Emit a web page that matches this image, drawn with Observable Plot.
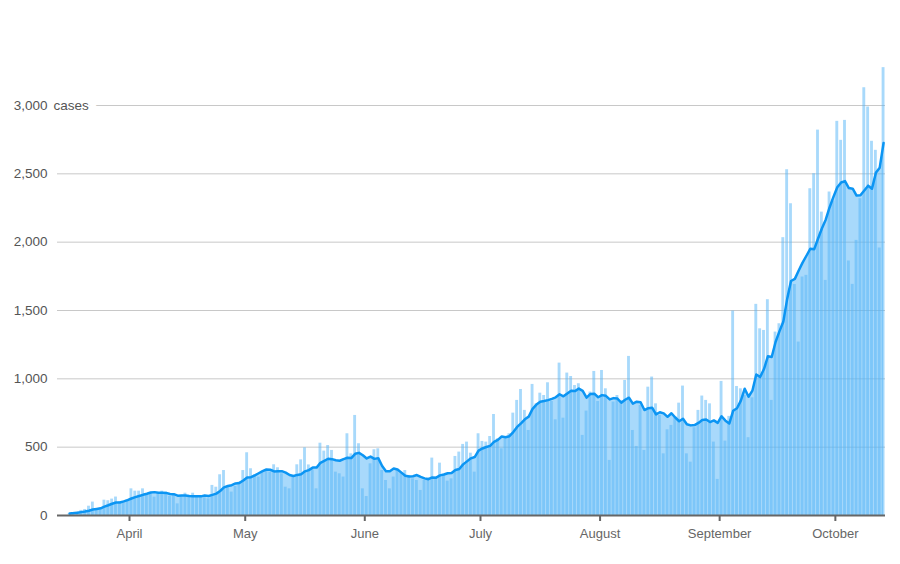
<!DOCTYPE html>
<html>
<head>
<meta charset="utf-8">
<script src="https://cdn.jsdelivr.net/npm/d3@7"></script>
<script src="https://cdn.jsdelivr.net/npm/@observablehq/plot@0.6"></script>
<style>
  html, body { margin: 0; padding: 0; background: #fff; }
  #chart svg { font-family: "Liberation Sans", Arial, sans-serif; }
  #chart svg [aria-label^="x-axis"] line,
  #chart svg [aria-label="x-axis tick"] path { stroke-width: 2; }
</style>
</head>
<body>
<div id="chart"></div>
<script>
// ---- data ----
const startDate = "2020-03-16";
const cases = [
  15, 20, 27, 37, 44, 68, 98, 44, 50, 112, 108, 120, 135, 100, 98, 115,
  195, 178, 178, 195, 154, 163, 134, 163, 178, 171, 139, 146, 85, 146, 163, 146,
  163, 139, 139, 129, 122, 220, 207, 298, 329, 207, 171, 212, 244, 329,
  459, 342, 298, 281, 317, 329, 317, 371, 349, 305, 207, 195, 281, 371, 407, 495,
  370, 334, 195, 529, 471, 512, 476, 317, 305, 281, 598, 451, 732, 525,
  195, 139, 378, 481, 488, 329, 256, 195, 281, 329, 317, 329, 293, 268, 256, 183,
  256, 275, 420, 281, 383, 300, 251, 268, 432, 464, 520, 537, 456, 317,
  598, 542, 537, 578, 739, 561, 488, 561, 598, 749, 842, 922, 769, 622, 959, 817,
  895, 878, 971, 834, 700, 1115, 712, 1042, 1017, 951, 964, 586, 764, 903, 1054, 834,
  1061, 927, 403, 830, 878, 842, 988, 1164, 622, 505, 805, 476, 939, 1013, 817, 732,
  451, 627, 659, 720, 822, 947, 451, 390, 642, 769, 874, 842, 817, 537,
  264, 981, 544, 725, 1496, 944, 927, 878, 569, 861, 1545, 1366, 1354, 1579, 842, 1342,
  1403, 2033, 2530, 2281, 1690, 1269, 1745, 1757, 2391, 2501, 2820, 2220, 1720, 2367, 2300,
  2884, 2745, 2891, 1862, 1691, 2013, 2318, 3130, 2989, 2738, 2672, 1957, 3277
];
const yTicks = [0, 500, 1000, 1500, 2000, 2500, 3000];
const yUnit = "cases";
const monthTicks = ["2020-04-01", "2020-05-01", "2020-06-01", "2020-07-01", "2020-08-01", "2020-09-01", "2020-10-01"];
const monthLabels = ["April", "May", "June", "July", "August", "September", "October"];

// ---- build table ----
const t0 = new Date(startDate + "T00:00:00Z");
const rows = cases.map((v, i) => ({
  start: d3.utcDay.offset(t0, i),
  end: d3.utcDay.offset(t0, i + 1),
  mid: d3.utcHour.offset(d3.utcDay.offset(t0, i), 12),
  cases: v
}));
const tickDates = monthTicks.map(s => new Date(s + "T00:00:00Z"));
const labelOf = new Map(tickDates.map((d, i) => [+d, monthLabels[i]]));
const fmt = d3.format(",");

const barColor = "#52b4f8";
const lineColor = "#0c95f3";
const textColor = "#555";

const chart = Plot.plot({
  width: 900,
  height: 564,
  marginLeft: 57,
  marginRight: 15,
  marginTop: 23,
  marginBottom: 49,
  style: { color: "#666", fontSize: "13px", background: "#fff" },
  x: {
    type: "utc",
    domain: [d3.utcHour.offset(t0, -64), d3.utcDay.offset(t0, cases.length)],
    ticks: tickDates,
    tickFormat: d => labelOf.get(+d),
    tickSize: 6,
    tickPadding: 7,
    label: null
  },
  y: { domain: [0, 3600], axis: null },
  marks: [
    Plot.ruleY(yTicks.filter(d => d > 0), { y: d => d, stroke: "#c8c8c8", strokeWidth: 1 }),
    Plot.areaY(rows, Plot.windowY({ k: 7, anchor: "end", reduce: "mean" },
      { x: "mid", y: "cases", fill: barColor, fillOpacity: 0.5 })),
    Plot.rectY(rows, { x1: "start", x2: "end", y: "cases", fill: barColor, fillOpacity: 0.5, insetLeft: 0.5, insetRight: 0.5 }),
    Plot.lineY(rows, Plot.windowY({ k: 7, anchor: "end", reduce: "mean" },
      { x: "mid", y: "cases", stroke: lineColor, strokeWidth: 2.5, strokeLinejoin: "round" })),
    Plot.ruleY([0], { y: d => d, stroke: "#666", strokeWidth: 2 }),
    Plot.text(yTicks.slice(-1), { y: d => d, text: () => yUnit, frameAnchor: "left", textAnchor: "start", dx: -4, fill: textColor, stroke: "white", strokeWidth: 16, fontSize: 13.5 }),
    Plot.text(yTicks, { y: d => d, text: d => fmt(d), frameAnchor: "left", textAnchor: "end", dx: -10, fill: textColor, fontSize: 13.5 })
  ]
});
document.getElementById("chart").appendChild(chart);
</script>
</body>
</html>
